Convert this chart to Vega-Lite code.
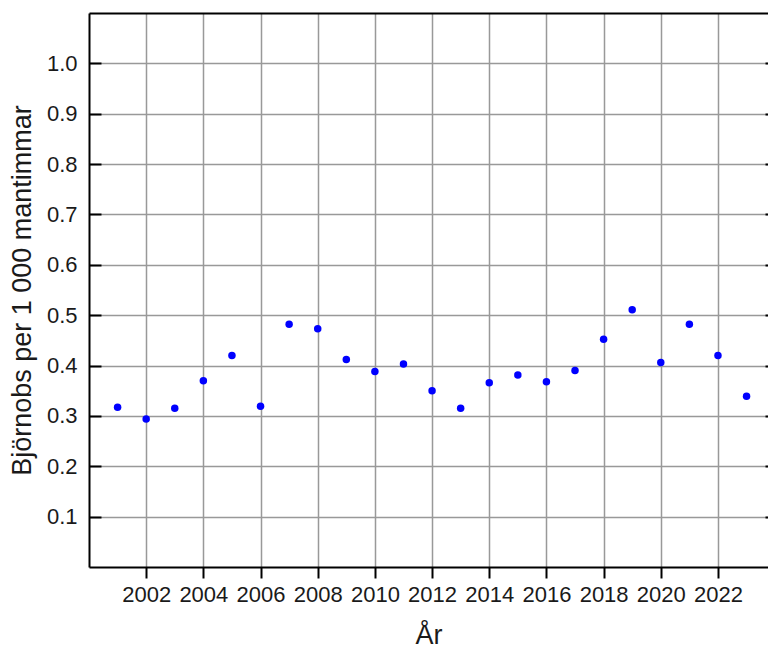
{
  "$schema": "https://vega.github.io/schema/vega-lite/v6.json",
  "width": 679,
  "height": 554,
  "autosize": "none",
  "padding": {"left": 89, "top": 13, "right": 0, "bottom": 81},
  "background": "white",
  "config": {
    "view": {"stroke": null},
    "font": "Liberation Sans",
    "axis": {
      "labelFont": "Liberation Sans",
      "titleFont": "Liberation Sans",
      "labelColor": "#1a1a1a",
      "titleColor": "#1a1a1a",
      "titleFontWeight": "normal",
      "domainColor": "black",
      "domainWidth": 2,
      "tickColor": "black",
      "tickWidth": 2,
      "gridColor": "#999999",
      "gridWidth": 1.5,
      "gridOpacity": 1
    }
  },
  "data": {
    "values": [
      {"year": 2001, "value": 0.317},
      {"year": 2002, "value": 0.294},
      {"year": 2003, "value": 0.315},
      {"year": 2004, "value": 0.370},
      {"year": 2005, "value": 0.420},
      {"year": 2006, "value": 0.319},
      {"year": 2007, "value": 0.482},
      {"year": 2008, "value": 0.473},
      {"year": 2009, "value": 0.412},
      {"year": 2010, "value": 0.388},
      {"year": 2011, "value": 0.403},
      {"year": 2012, "value": 0.350},
      {"year": 2013, "value": 0.315},
      {"year": 2014, "value": 0.366},
      {"year": 2015, "value": 0.381},
      {"year": 2016, "value": 0.368},
      {"year": 2017, "value": 0.390},
      {"year": 2018, "value": 0.452},
      {"year": 2019, "value": 0.511},
      {"year": 2020, "value": 0.406},
      {"year": 2021, "value": 0.482},
      {"year": 2022, "value": 0.420},
      {"year": 2023, "value": 0.339}
    ]
  },
  "layer": [
    {
      "mark": {"type": "point", "filled": true, "shape": "circle", "size": 56, "color": "#0000ff", "opacity": 1},
      "encoding": {
        "x": {
          "field": "year",
          "type": "quantitative",
          "scale": {"domain": [2000, 2023.75], "nice": false, "zero": false},
          "axis": {
            "values": [2002, 2004, 2006, 2008, 2010, 2012, 2014, 2016, 2018, 2020, 2022],
            "format": "d",
            "title": "År",
            "titleFontSize": 27,
            "titlePadding": 17,
            "labelFontSize": 22,
            "labelPadding": 6,
            "tickSize": 11,
            "grid": true
          }
        },
        "y": {
          "field": "value",
          "type": "quantitative",
          "scale": {"domain": [0, 1.1], "nice": false},
          "axis": {
            "values": [0.1, 0.2, 0.3, 0.4, 0.5, 0.6, 0.7, 0.8, 0.9, 1.0],
            "format": ".1f",
            "title": "Björnobs per 1 000 mantimmar",
            "titleFontSize": 27,
            "titlePadding": 10,
            "labelFontSize": 22,
            "labelPadding": 24,
            "tickSize": -12,
            "grid": true
          }
        }
      }
    },
    {
      "mark": {"type": "rule", "opacity": 0},
      "encoding": {
        "x": {
          "datum": 2000,
          "type": "quantitative",
          "scale": {"domain": [2000, 2023.75], "nice": false, "zero": false},
          "axis": {"orient": "top", "labels": false, "ticks": false, "grid": false, "title": null, "domain": true}
        },
        "y": {
          "datum": 0,
          "type": "quantitative",
          "scale": {"domain": [0, 1.1], "nice": false},
          "axis": {"orient": "right", "values": [0.1, 0.2, 0.3, 0.4, 0.5, 0.6, 0.7, 0.8, 0.9, 1.0], "labels": false, "domain": false, "grid": false, "title": null, "tickSize": -3}
        }
      }
    }
  ],
  "resolve": {"scale": {"x": "independent", "y": "independent"}, "axis": {"x": "independent", "y": "independent"}}
}
